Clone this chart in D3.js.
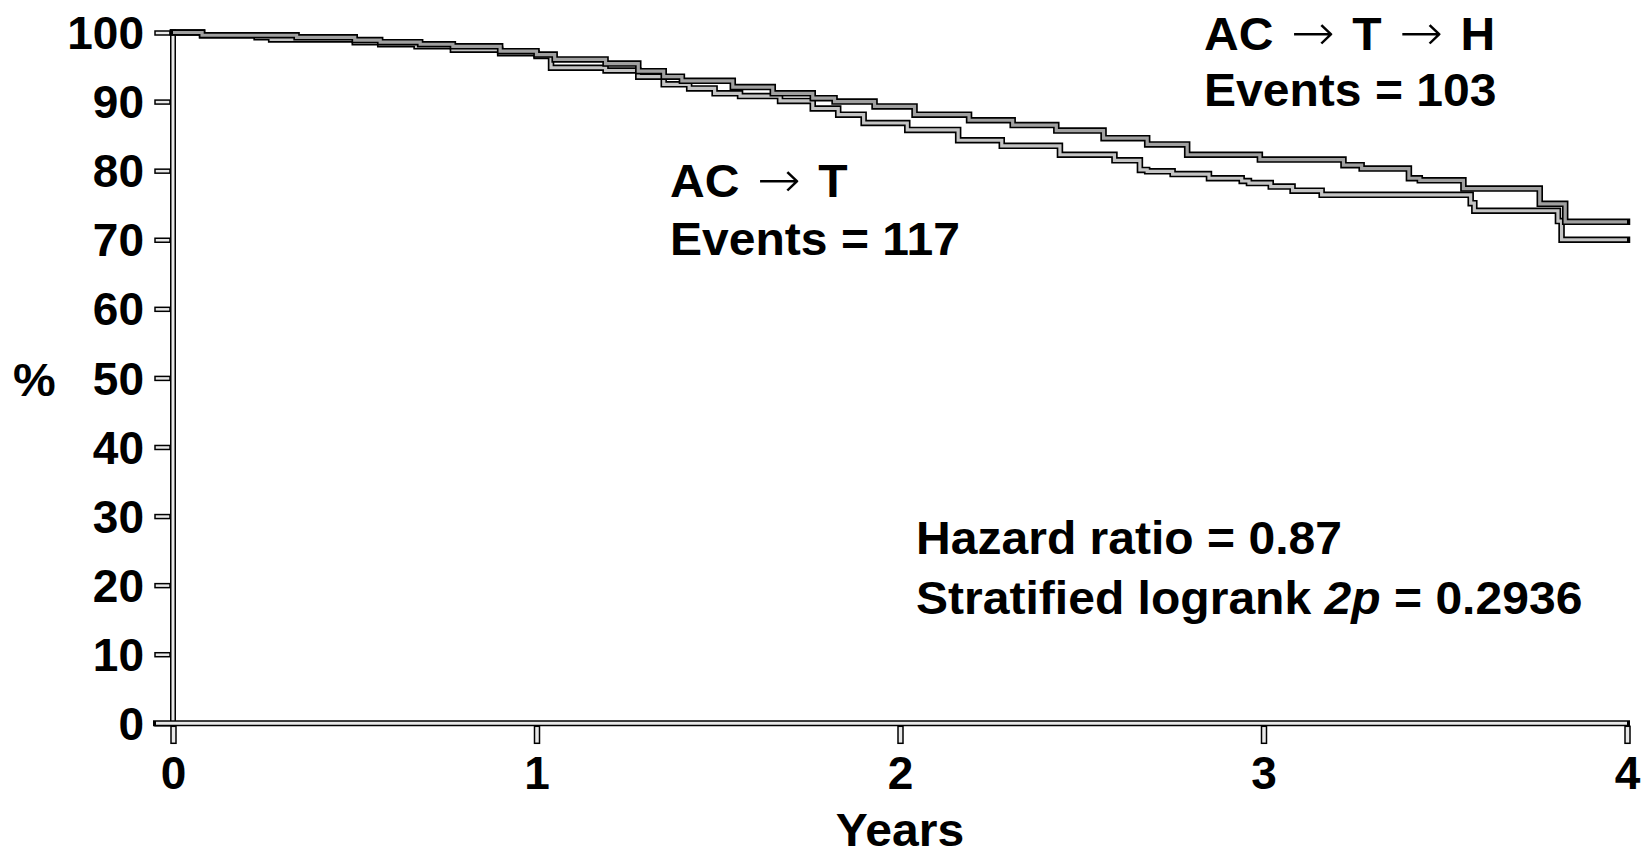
<!DOCTYPE html>
<html>
<head>
<meta charset="utf-8">
<script src="https://cdn.jsdelivr.net/npm/d3@7"></script>
<style>
  html, body { margin: 0; padding: 0; background: #fff; }
  svg { display: block; font-family: "Liberation Sans", Arial, sans-serif; font-weight: bold; }
</style>
</head>
<body>
<svg id="chart" width="1646" height="852"></svg>
<script>
'use strict';

// step points [years, % event-free]
const armTH = [
  [0, 100], [0.08, 99.6], [0.34, 99.3], [0.50, 98.9], [0.57, 98.6], [0.68, 98.3],
  [0.77, 98.0], [0.90, 97.3], [1.00, 96.8], [1.05, 96.1], [1.19, 95.5], [1.28, 94.4],
  [1.35, 93.6], [1.40, 93.0], [1.54, 92.1], [1.65, 91.2], [1.76, 90.5], [1.82, 90.0],
  [1.93, 89.3], [2.04, 88.1], [2.19, 87.3], [2.31, 86.6], [2.43, 85.8], [2.56, 84.7],
  [2.68, 83.8], [2.79, 82.3], [2.99, 81.6], [3.22, 80.8], [3.27, 80.3], [3.40, 78.9],
  [3.43, 78.6], [3.55, 77.4], [3.76, 75.2], [3.83, 72.6], [4.0, 72.6]
];
const armT = [
  [0, 100], [0.08, 99.6], [0.23, 99.3], [0.27, 99.0], [0.50, 98.6], [0.57, 98.3],
  [0.67, 98.0], [0.77, 97.5], [0.90, 97.0], [1.00, 96.6], [1.04, 94.9], [1.19, 94.5],
  [1.28, 93.6], [1.35, 92.5], [1.42, 91.9], [1.49, 91.2], [1.56, 90.8], [1.67, 90.1],
  [1.76, 89.0], [1.83, 88.1], [1.90, 86.9], [2.02, 85.9], [2.16, 84.4], [2.28, 83.6],
  [2.44, 82.3], [2.59, 81.5], [2.66, 80.1], [2.68, 79.9], [2.75, 79.5], [2.85, 78.9],
  [2.94, 78.5], [2.96, 78.2], [3.02, 77.7], [3.08, 77.1], [3.16, 76.5], [3.57, 75.3],
  [3.58, 74.2], [3.81, 72.7], [3.82, 70.0], [4.0, 70.0]
];
const yTicks = [0, 10, 20, 30, 40, 50, 60, 70, 80, 90, 100];
const xTicks = [0, 1, 2, 3, 4];
const labelTH = ['AC \u2192 T \u2192 H', 'Events = 103'];
const labelT = ['AC \u2192 T', 'Events = 117'];

const svg = d3.select('#chart');
const x = d3.scaleLinear().domain([0, 4]).range([173, 1627]);
const y = d3.scaleLinear().domain([0, 100]).range([723.3, 32.5]);

const axisFill = '#e8e8e8';
const stretch = 1.045; // text in the source is a bit wide

// double-stroked line helper
function doubleLine(d, fill, wOuter, wInner) {
    svg.append('path').attr('d', d).attr('fill', 'none')
        .attr('stroke', '#000').attr('stroke-width', wOuter).attr('stroke-linecap', 'square');
    svg.append('path').attr('d', d).attr('fill', 'none')
        .attr('stroke', fill).attr('stroke-width', wInner).attr('stroke-linecap', 'butt');
}

// y axis
doubleLine(`M${x(0)},${y(100)}L${x(0)},${y(0)}`, axisFill, 6, 3);

const yAxis = svg.append('g')
    .attr('transform', `translate(${x(0) - 3},0)`)
    .call(d3.axisLeft(y).tickValues(yTicks).tickSize(0).tickPadding(26));
yAxis.select('.domain').remove();
yAxis.selectAll('.tick').append('rect')
    .attr('x', -15).attr('y', -2).attr('width', 15).attr('height', 4)
    .attr('fill', axisFill).attr('stroke', '#000').attr('stroke-width', 1.5);
yAxis.selectAll('.tick text')
    .attr('font-family', null).attr('font-size', 46).attr('fill', '#000').attr('dy', '0.35em');

// x axis
const xAxis = svg.append('g')
    .attr('transform', `translate(0,${y(0) + 3})`)
    .call(d3.axisBottom(x).tickValues(xTicks).tickFormat(d3.format('d')).tickSize(0).tickPadding(30));
xAxis.select('.domain').remove();
xAxis.selectAll('.tick').append('rect')
    .attr('x', -2.5).attr('y', 0).attr('width', 5).attr('height', 17)
    .attr('fill', axisFill).attr('stroke', '#000').attr('stroke-width', 1.5);
xAxis.selectAll('.tick text')
    .attr('font-family', null).attr('font-size', 46).attr('fill', '#000').attr('dy', '0.71em');
doubleLine(`M${x(0) - 17},${y(0)}L${x(4)},${y(0)}`, axisFill, 6, 3);

// curves
const line = d3.line().x(d => x(d[0])).y(d => y(d[1])).curve(d3.curveStepAfter);
doubleLine(line(armT), '#c4c4c4', 6.5, 3.2);
doubleLine(line(armTH), '#a0a0a0', 6.5, 3.2);

// texts
function addText(tx, ty, str, anchor) {
    return svg.append('text')
        .attr('transform', `translate(${tx},${ty}) scale(${stretch},1)`)
        .attr('font-size', 46).attr('text-anchor', anchor || 'start').text(str);
}
function addArrowText(tx, ty, str) {
    const t = svg.append('text')
        .attr('transform', `translate(${tx},${ty}) scale(${stretch},1)`)
        .attr('font-size', 46);
    let afterArrow = false;
    str.split(/(\u2192)/).forEach(part => {
        if (part === '\u2192') {
            t.append('tspan').attr('font-family', '"DejaVu Sans", sans-serif')
                .attr('font-weight', 200).attr('font-size', 50).attr('dx', 4).text(part);
            afterArrow = true;
        } else {
            const s = t.append('tspan').text(part);
            if (afterArrow) s.attr('dx', 4);
        }
    });
}

addArrowText(1204, 50, labelTH[0]);
addText(1204, 106, labelTH[1]);
addArrowText(670, 197, labelT[0]);
addText(670, 255, labelT[1]);

addText(916, 554, 'Hazard ratio = 0.87');
const strat = addText(916, 614, 'Stratified logrank ');
strat.append('tspan').attr('font-style', 'italic').text('2p');
strat.append('tspan').text(' = 0.2936');

addText(13, 396, '%');
addText(x(2), 846, 'Years', 'middle');
</script>
</body>
</html>
